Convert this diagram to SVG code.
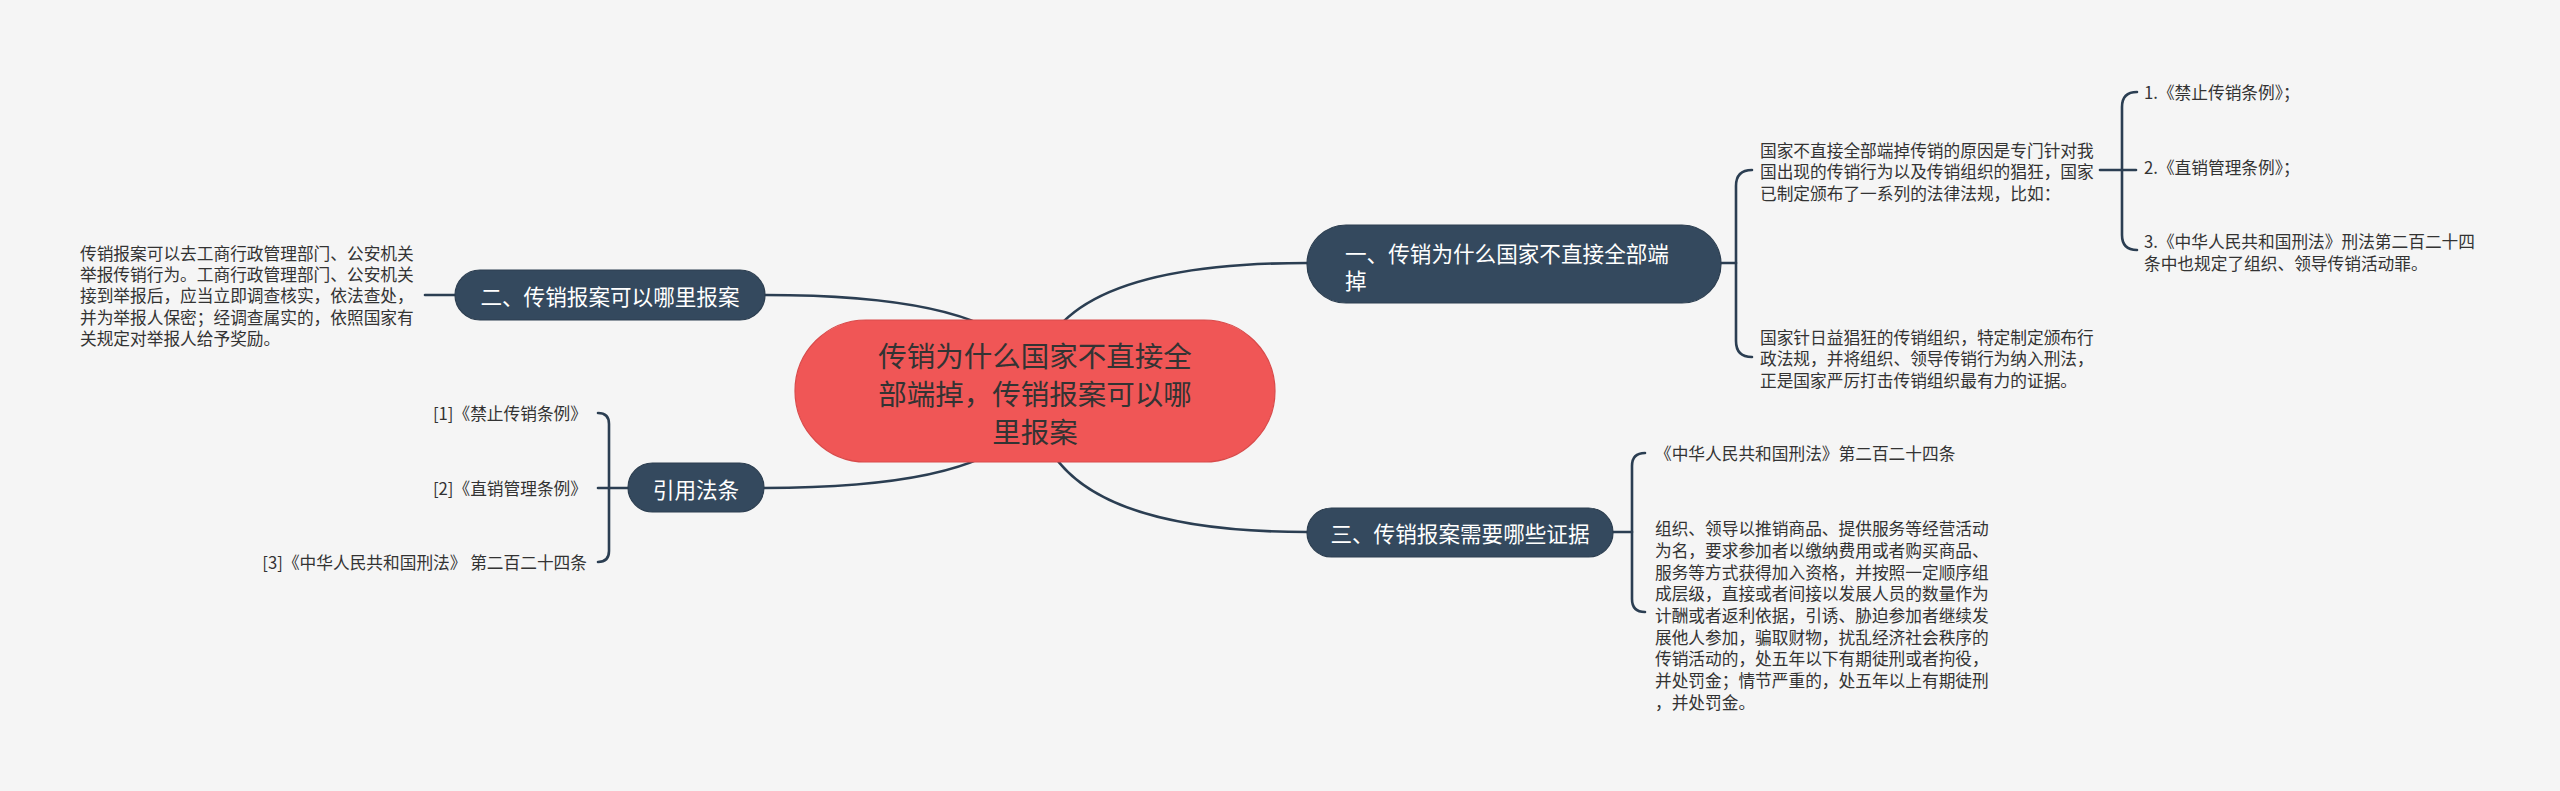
<svg xmlns="http://www.w3.org/2000/svg" width="2560" height="791" viewBox="0 0 2560 791">
<style>
.bg{fill:#f5f5f5}
.conn{fill:none;stroke:#2b3e52;stroke-width:2.6;stroke-linecap:round}
.root{fill:#f05656;stroke:#d94a4a;stroke-width:1.2}
.rootText{font-family:"Noto Sans CJK SC","Noto Sans",sans-serif;font-size:28.5px;fill:#333333;text-anchor:middle;dominant-baseline:central}
.main{fill:#34495e;stroke:#2c3e50;stroke-width:1.2}
.mainText{font-family:"Noto Sans CJK SC","Noto Sans",sans-serif;font-size:21.6px;fill:#ffffff;dominant-baseline:central}
.leaf{font-family:"Noto Sans CJK SC","Noto Sans",sans-serif;font-size:16.7px;fill:#333333;dominant-baseline:central}
</style>
<rect class="bg" x="0" y="0" width="2560" height="791"/>
<g id="connectors">
<path class="conn" d="M1035,391 Q1035,263 1307,263"/>
<path class="conn" d="M1035,391 Q1035,532 1307,532"/>
<path class="conn" d="M1035,391 Q1035,295 765,295"/>
<path class="conn" d="M1035,391 Q1035,488 764,488"/>
<path class="conn" d="M1721,263 H1736"/>
<path class="conn" d="M1752,170 Q1736,170 1736,186 V341 Q1736,357 1752,357"/>
<path class="conn" d="M2100,170 H2136"/>
<path class="conn" d="M2137,92 Q2122,92 2122,107 V235 Q2122,250 2137,250"/>
<path class="conn" d="M1613,532 H1632"/>
<path class="conn" d="M1645,453 Q1632,453 1632,466 V599 Q1632,612 1645,612"/>
<path class="conn" d="M425,295 H455"/>
<path class="conn" d="M598,488 H628"/>
<path class="conn" d="M598,413 Q609,413 609,424 V551 Q609,562 598,562"/>
</g>
<g id="root">
<rect class="root" x="795" y="320" width="480" height="142" rx="71" ry="71"/>
<text class="rootText" x="1035" y="354">传销为什么国家不直接全</text>
<text class="rootText" x="1035" y="392">部端掉，传销报案可以哪</text>
<text class="rootText" x="1035" y="430">里报案</text>
</g>
<g id="node1">
<rect class="main" x="1307" y="225" width="414" height="78" rx="39" ry="39"/>
<text class="mainText" x="1345" y="252">一、传销为什么国家不直接全部端</text>
<text class="mainText" x="1345" y="279">掉</text>
</g>
<g id="node1a">
<text class="leaf" x="1760" y="150">国家不直接全部端掉传销的原因是专门针对我</text>
<text class="leaf" x="1760" y="171">国出现的传销行为以及传销组织的猖狂，国家</text>
<text class="leaf" x="1760" y="193">已制定颁布了一系列的法律法规，比如：</text>
</g>
<g id="node1a1"><text class="leaf" x="2144" y="92">1.《禁止传销条例》；</text></g>
<g id="node1a2"><text class="leaf" x="2144" y="167">2.《直销管理条例》；</text></g>
<g id="node1a3">
<text class="leaf" x="2144" y="241">3.《中华人民共和国刑法》刑法第二百二十四</text>
<text class="leaf" x="2144" y="263">条中也规定了组织、领导传销活动罪。</text>
</g>
<g id="node1b">
<text class="leaf" x="1760" y="337">国家针日益猖狂的传销组织，特定制定颁布行</text>
<text class="leaf" x="1760" y="358">政法规，并将组织、领导传销行为纳入刑法，</text>
<text class="leaf" x="1760" y="380">正是国家严厉打击传销组织最有力的证据。</text>
</g>
<g id="node2">
<rect class="main" x="455" y="270" width="310" height="50" rx="25" ry="25"/>
<text class="mainText" x="610" y="295" text-anchor="middle">二、传销报案可以哪里报案</text>
</g>
<g id="node2a">
<text class="leaf" x="80" y="253">传销报案可以去工商行政管理部门、公安机关</text>
<text class="leaf" x="80" y="274">举报传销行为。工商行政管理部门、公安机关</text>
<text class="leaf" x="80" y="295">接到举报后，应当立即调查核实，依法查处，</text>
<text class="leaf" x="80" y="317">并为举报人保密；经调查属实的，依照国家有</text>
<text class="leaf" x="80" y="338">关规定对举报人给予奖励。</text>
</g>
<g id="node3">
<rect class="main" x="1307" y="508" width="306" height="49" rx="24.5" ry="24.5"/>
<text class="mainText" x="1460" y="532" text-anchor="middle">三、传销报案需要哪些证据</text>
</g>
<g id="node3a"><text class="leaf" x="1655" y="453">《中华人民共和国刑法》第二百二十四条</text></g>
<g id="node3b">
<text class="leaf" x="1655" y="528">组织、领导以推销商品、提供服务等经营活动</text>
<text class="leaf" x="1655" y="550">为名，要求参加者以缴纳费用或者购买商品、</text>
<text class="leaf" x="1655" y="572">服务等方式获得加入资格，并按照一定顺序组</text>
<text class="leaf" x="1655" y="593">成层级，直接或者间接以发展人员的数量作为</text>
<text class="leaf" x="1655" y="615">计酬或者返利依据，引诱、胁迫参加者继续发</text>
<text class="leaf" x="1655" y="637">展他人参加，骗取财物，扰乱经济社会秩序的</text>
<text class="leaf" x="1655" y="658">传销活动的，处五年以下有期徒刑或者拘役，</text>
<text class="leaf" x="1655" y="680">并处罚金；情节严重的，处五年以上有期徒刑</text>
<text class="leaf" x="1655" y="702">，并处罚金。</text>
</g>
<g id="node4">
<rect class="main" x="628" y="463" width="136" height="49" rx="24.5" ry="24.5"/>
<text class="mainText" x="696" y="488" text-anchor="middle">引用法条</text>
</g>
<g id="node4a"><text class="leaf" x="587" y="413" text-anchor="end">[1]《禁止传销条例》</text></g>
<g id="node4b"><text class="leaf" x="587" y="488" text-anchor="end">[2]《直销管理条例》</text></g>
<g id="node4c"><text class="leaf" x="587" y="562" text-anchor="end">[3]《中华人民共和国刑法》 第二百二十四条</text></g>
</svg>
